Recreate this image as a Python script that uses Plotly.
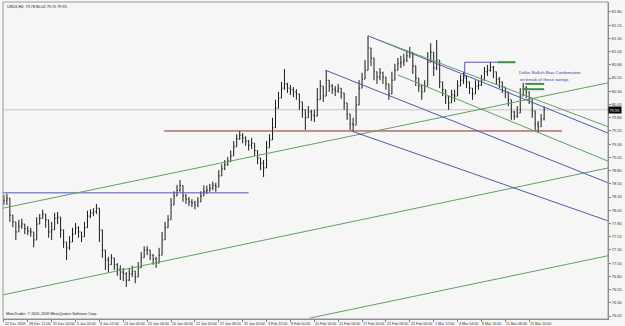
import plotly.graph_objects as go

# ---------------- data (USDX, H4) ----------------
opens = [78.21,78.24,78.28,77.96,77.83,77.64,77.75,77.79,77.70,77.66,77.64,77.49,77.79,77.90,77.98,77.87,77.64,77.68,77.90,77.92,
         77.68,77.45,77.34,77.45,77.60,77.72,77.64,77.55,77.72,77.94,78.00,78.02,78.09,77.68,77.30,77.11,77.02,77.15,77.02,76.94,
         76.88,76.85,76.73,76.85,76.90,76.79,76.96,77.15,77.30,77.30,77.20,77.13,77.05,77.20,77.49,77.72,77.87,78.15,78.32,78.43,
         78.52,78.32,78.26,78.21,78.19,78.15,78.21,78.32,78.41,78.43,78.47,78.52,78.49,78.70,78.83,78.91,78.98,79.08,79.25,79.40,
         79.47,79.42,79.36,79.28,79.32,79.18,79.04,78.94,78.85,79.23,79.38,79.61,79.98,80.17,80.36,80.44,80.36,80.33,80.29,80.25,
         80.10,79.95,79.80,79.91,79.85,79.83,80.14,80.40,80.21,80.51,80.40,80.34,80.31,80.36,80.27,80.08,79.87,79.68,79.66,80.04,
         80.36,80.53,80.70,81.12,80.93,80.67,80.57,80.65,80.57,80.44,80.25,80.51,80.70,80.82,80.85,80.89,80.97,81.04,80.78,80.55,
         80.40,80.29,80.40,80.85,81.04,80.74,80.89,80.48,80.33,80.19,80.08,80.23,80.21,80.40,80.51,80.55,80.48,80.36,80.25,80.40,
         80.42,80.51,80.67,80.70,80.76,80.67,80.53,80.48,80.38,80.29,80.14,79.91,79.83,79.89,80.21,80.36,80.29,80.17,79.93,79.68,
         79.63,79.78]
highs = [78.34,78.36,78.28,77.96,77.83,77.87,77.89,77.79,77.75,77.72,77.64,77.92,77.98,78.06,77.98,77.87,77.83,78.00,78.02,77.92,
         77.68,77.45,77.56,77.72,77.81,77.75,77.64,77.83,78.04,78.07,78.09,78.17,78.09,77.68,77.30,77.17,77.22,77.15,77.05,77.01,
         76.96,76.88,76.96,77.00,76.90,77.07,77.26,77.37,77.37,77.30,77.22,77.17,77.34,77.64,77.83,77.96,78.28,78.41,78.53,78.62,
         78.52,78.36,78.30,78.26,78.23,78.30,78.41,78.52,78.52,78.55,78.59,78.57,78.81,78.92,79.00,79.06,79.18,79.36,79.49,79.55,
         79.51,79.45,79.38,79.42,79.32,79.18,79.04,79.00,79.36,79.49,79.80,80.14,80.29,80.48,80.72,80.46,80.42,80.38,80.34,80.25,
         80.10,79.95,80.02,79.95,79.95,80.36,80.51,80.40,80.70,80.51,80.44,80.40,80.44,80.36,80.27,80.08,79.87,79.80,80.21,80.51,
         80.65,80.89,81.35,81.12,80.93,80.67,80.74,80.67,80.57,80.44,80.67,80.82,80.93,80.97,81.01,81.08,81.14,81.04,80.78,80.55,
         80.42,80.51,81.04,81.21,81.04,81.27,80.89,80.48,80.33,80.21,80.33,80.33,80.51,80.61,80.67,80.59,80.48,80.36,80.51,80.51,
         80.61,80.76,80.80,80.85,80.78,80.67,80.57,80.48,80.38,80.29,80.14,79.93,80.02,80.36,80.46,80.40,80.29,80.17,79.93,79.74,
         79.87,80.02]
lows = [78.15,78.15,77.83,77.73,77.49,77.64,77.70,77.60,77.58,77.55,77.35,77.49,77.79,77.89,77.72,77.53,77.49,77.68,77.79,77.53,
        77.34,77.11,77.30,77.45,77.60,77.53,77.45,77.55,77.72,77.90,77.94,77.98,77.45,77.15,76.92,76.88,77.02,76.92,76.81,76.73,
        76.71,76.60,76.71,76.79,76.67,76.79,76.96,77.15,77.20,77.11,77.02,76.96,77.05,77.20,77.49,77.72,77.87,78.15,78.32,78.40,
        78.21,78.17,78.13,78.11,78.07,78.11,78.21,78.32,78.36,78.40,78.43,78.40,78.49,78.70,78.81,78.89,78.96,79.08,79.25,79.38,
        79.32,79.27,79.18,79.21,79.08,78.92,78.81,78.68,78.85,79.23,79.38,79.61,79.98,80.17,80.33,80.27,80.23,80.19,80.14,79.95,
        79.80,79.57,79.80,79.74,79.72,79.83,80.14,80.10,80.21,80.29,80.25,80.21,80.27,80.16,79.95,79.76,79.57,79.55,79.66,80.04,
        80.36,80.53,80.70,80.78,80.51,80.44,80.51,80.44,80.33,80.14,80.25,80.51,80.70,80.74,80.78,80.85,80.93,80.63,80.40,80.29,
        80.14,80.29,80.40,80.85,80.59,80.70,80.36,80.21,80.06,79.95,80.08,80.10,80.21,80.40,80.44,80.36,80.25,80.14,80.25,80.33,
        80.40,80.51,80.59,80.67,80.55,80.42,80.36,80.27,80.17,80.02,79.76,79.76,79.80,79.89,80.21,80.17,80.06,79.80,79.57,79.53,
        79.63,79.75]
closes = [78.24,78.28,77.96,77.83,77.64,77.75,77.79,77.70,77.66,77.64,77.49,77.79,77.90,77.98,77.87,77.64,77.68,77.90,77.92,77.68,
          77.45,77.34,77.45,77.60,77.72,77.64,77.55,77.72,77.94,78.00,78.02,78.09,77.68,77.30,77.11,77.02,77.15,77.02,76.94,76.88,
          76.85,76.73,76.85,76.90,76.79,76.96,77.15,77.30,77.30,77.20,77.13,77.05,77.20,77.49,77.72,77.87,78.15,78.32,78.43,78.52,
          78.32,78.26,78.21,78.19,78.15,78.21,78.32,78.41,78.43,78.47,78.52,78.49,78.70,78.83,78.91,78.98,79.08,79.25,79.40,79.47,
          79.42,79.36,79.28,79.32,79.18,79.04,78.94,78.85,79.23,79.38,79.61,79.98,80.17,80.36,80.44,80.36,80.33,80.29,80.25,80.10,
          79.95,79.80,79.91,79.85,79.83,80.14,80.40,80.21,80.51,80.40,80.34,80.31,80.36,80.27,80.08,79.87,79.68,79.66,80.04,80.36,
          80.53,80.70,81.12,80.93,80.67,80.57,80.65,80.57,80.44,80.25,80.51,80.70,80.82,80.85,80.89,80.97,81.04,80.78,80.55,80.40,
          80.29,80.40,80.85,81.04,80.74,80.89,80.48,80.33,80.19,80.08,80.23,80.21,80.40,80.51,80.55,80.48,80.36,80.25,80.40,80.42,
          80.51,80.67,80.70,80.76,80.67,80.53,80.48,80.38,80.29,80.14,79.91,79.83,79.89,80.21,80.36,80.29,80.17,79.93,79.68,79.63,
          79.76,79.95]
bar_index = list(range(len(closes)))

x_tick_bars = [0, 8, 16, 24, 32, 40, 48, 56, 64, 72, 80, 88, 96, 104, 112, 120, 128, 136, 144, 152, 160, 168, 176]
x_tick_labels = ["22 Dec 2009", "28 Dec 12:00", "31 Dec 04:00", "5 Jan 20:00", "8 Jan 12:00", "13 Jan 00:00",
                 "15 Jan 16:00", "20 Jan 04:00", "22 Jan 20:00", "27 Jan 08:00", "31 Jan 20:00", "3 Feb 12:00",
                 "8 Feb 00:00", "10 Feb 16:00", "15 Feb 04:00", "17 Feb 20:00", "22 Feb 08:00", "25 Feb 00:00",
                 "1 Mar 12:00", "4 Mar 04:00", "8 Mar 16:00", "11 Mar 08:00", "15 Mar 20:00"]
y_tick_values = [81.80, 81.55, 81.30, 81.05, 80.80, 80.55, 80.30, 80.05, 79.80, 79.55, 79.30, 79.05,
                 78.80, 78.55, 78.30, 78.05, 77.80, 77.55, 77.30, 77.05, 76.80, 76.55, 76.30, 76.05]
y_tick_labels = ["%.2f" % v for v in y_tick_values]

last_price = 79.95
header_text = "USDX,H4  79.78 80.02 79.75 79.95"
footer_text = "MetaTrader, \u00a9 2001-2009 MetaQuotes Software Corp."
note_lines = ["Dollar Bullish Bias Confirmation", "on break of these swings"]

# trend lines: (bar0, price0, bar1, price1)
navy_level = [(-0.3, 78.38, 82, 78.38)]
red_level = [(53.7, 79.55, 187, 79.55)]
green_channel = [(-0.3, 78.09, 202.4, 80.46),
                 (-0.3, 76.45, 202.4, 78.85),
                 (102.4, 76.01, 202.4, 77.19)]
blue_channel = [(122, 81.35, 202.4, 79.51),
                (107.7, 80.70, 202.4, 78.57),
                (116.4, 79.55, 202.4, 77.85)]
green_desc = [(126, 81.26, 202.4, 79.63),
              (132, 80.61, 202.4, 78.98)]
swing_bracket = [(154.4, 80.85, 165.4, 80.85), (154.4, 80.85, 154.4, 80.57)]
swing_marks = [(165.4, 80.85, 171.4, 80.85), (174.7, 80.44, 181, 80.44), (173.7, 80.34, 181, 80.34)]

X_RANGE = [-0.3, 202.4]
Y_RANGE = [75.994, 81.989]

FONT = "Liberation Sans"
BLUE = "#5656b0"
GREEN = "#62a062"
RED = "#8b2a2a"

fig = go.Figure()
fig.add_trace(go.Ohlc(
    x=bar_index, open=opens, high=highs, low=lows, close=closes,
    increasing=dict(line=dict(color="#1a1a1a", width=1)),
    decreasing=dict(line=dict(color="#1a1a1a", width=1)),
    tickwidth=0.3, hoverinfo="skip", showlegend=False,
))

shapes = []
def add_lines(segs, color, width=1):
    for (a, b, c, d) in segs:
        shapes.append(dict(type="line", xref="x", yref="y", x0=a, y0=b, x1=c, y1=d,
                           line=dict(color=color, width=width), layer="above"))

# current price line
shapes.append(dict(type="line", xref="paper", yref="y", x0=0, x1=1, y0=last_price, y1=last_price,
                   line=dict(color="#c4c4c4", width=1), layer="below"))
add_lines(navy_level, BLUE)
add_lines(red_level, RED)
add_lines(green_channel, GREEN)
add_lines(blue_channel, BLUE)
add_lines(green_desc, GREEN)
add_lines(swing_bracket, BLUE)
add_lines(swing_marks, "#3f8f3f", 2)
# frame
shapes.append(dict(type="rect", xref="paper", yref="paper", x0=0, x1=1, y0=0, y1=1,
                   line=dict(color="#9a9a9a", width=1), layer="above"))

annotations = []
for b, t in zip(x_tick_bars, x_tick_labels):
    annotations.append(dict(x=b, y=0, xref="x", yref="paper", text=t, showarrow=False,
                            xanchor="left", yanchor="top", yshift=-1, xshift=-1,
                            font=dict(family=FONT, size=3.6, color="#333333")))
annotations.append(dict(x=0, y=1, xref="paper", yref="paper", text=header_text, showarrow=False,
                        xanchor="left", yanchor="top", xshift=2, yshift=-1,
                        font=dict(family=FONT, size=3.8, color="#111111")))
annotations.append(dict(x=0, y=0, xref="paper", yref="paper", text=footer_text, showarrow=False,
                        xanchor="left", yanchor="bottom", xshift=1, yshift=1,
                        font=dict(family=FONT, size=3.8, color="#222222")))
annotations.append(dict(x=172, y=80.66, xref="x", yref="y", text=note_lines[0], showarrow=False,
                        xanchor="left", yanchor="middle",
                        font=dict(family=FONT, size=4.4, color="#3a3aa0")))
annotations.append(dict(x=172.4, y=80.53, xref="x", yref="y", text=note_lines[1], showarrow=False,
                        xanchor="left", yanchor="middle",
                        font=dict(family=FONT, size=4.4, color="#3a3aa0")))
annotations.append(dict(x=1, y=last_price, xref="paper", yref="y", text="%.2f" % last_price,
                        showarrow=False, xanchor="left", yanchor="middle", bgcolor="#000000",
                        borderpad=0.5, font=dict(family=FONT, size=4, color="#ffffff")))

fig.update_layout(
    width=625, height=326, autosize=False,
    margin=dict(l=3, r=14, t=2, b=7, pad=0),
    paper_bgcolor="#f6f6f6", plot_bgcolor="#f6f6f6",
    shapes=shapes, annotations=annotations,
    showlegend=False, hovermode=False,
    xaxis=dict(range=X_RANGE, rangeslider=dict(visible=False), showgrid=False, zeroline=False,
               tickmode="array", tickvals=x_tick_bars, ticktext=[""] * len(x_tick_bars),
               ticks="outside", ticklen=2, tickcolor="#808080", showline=True, linecolor="#808080",
               linewidth=1, fixedrange=True),
    yaxis=dict(range=Y_RANGE, side="right", showgrid=False, zeroline=False,
               tickmode="array", tickvals=y_tick_values, ticktext=y_tick_labels,
               ticks="outside", ticklen=2, tickcolor="#808080", showline=True, linecolor="#808080",
               linewidth=1, tickfont=dict(family=FONT, size=4, color="#333333"), fixedrange=True),
)

fig.write_html("out.html")
